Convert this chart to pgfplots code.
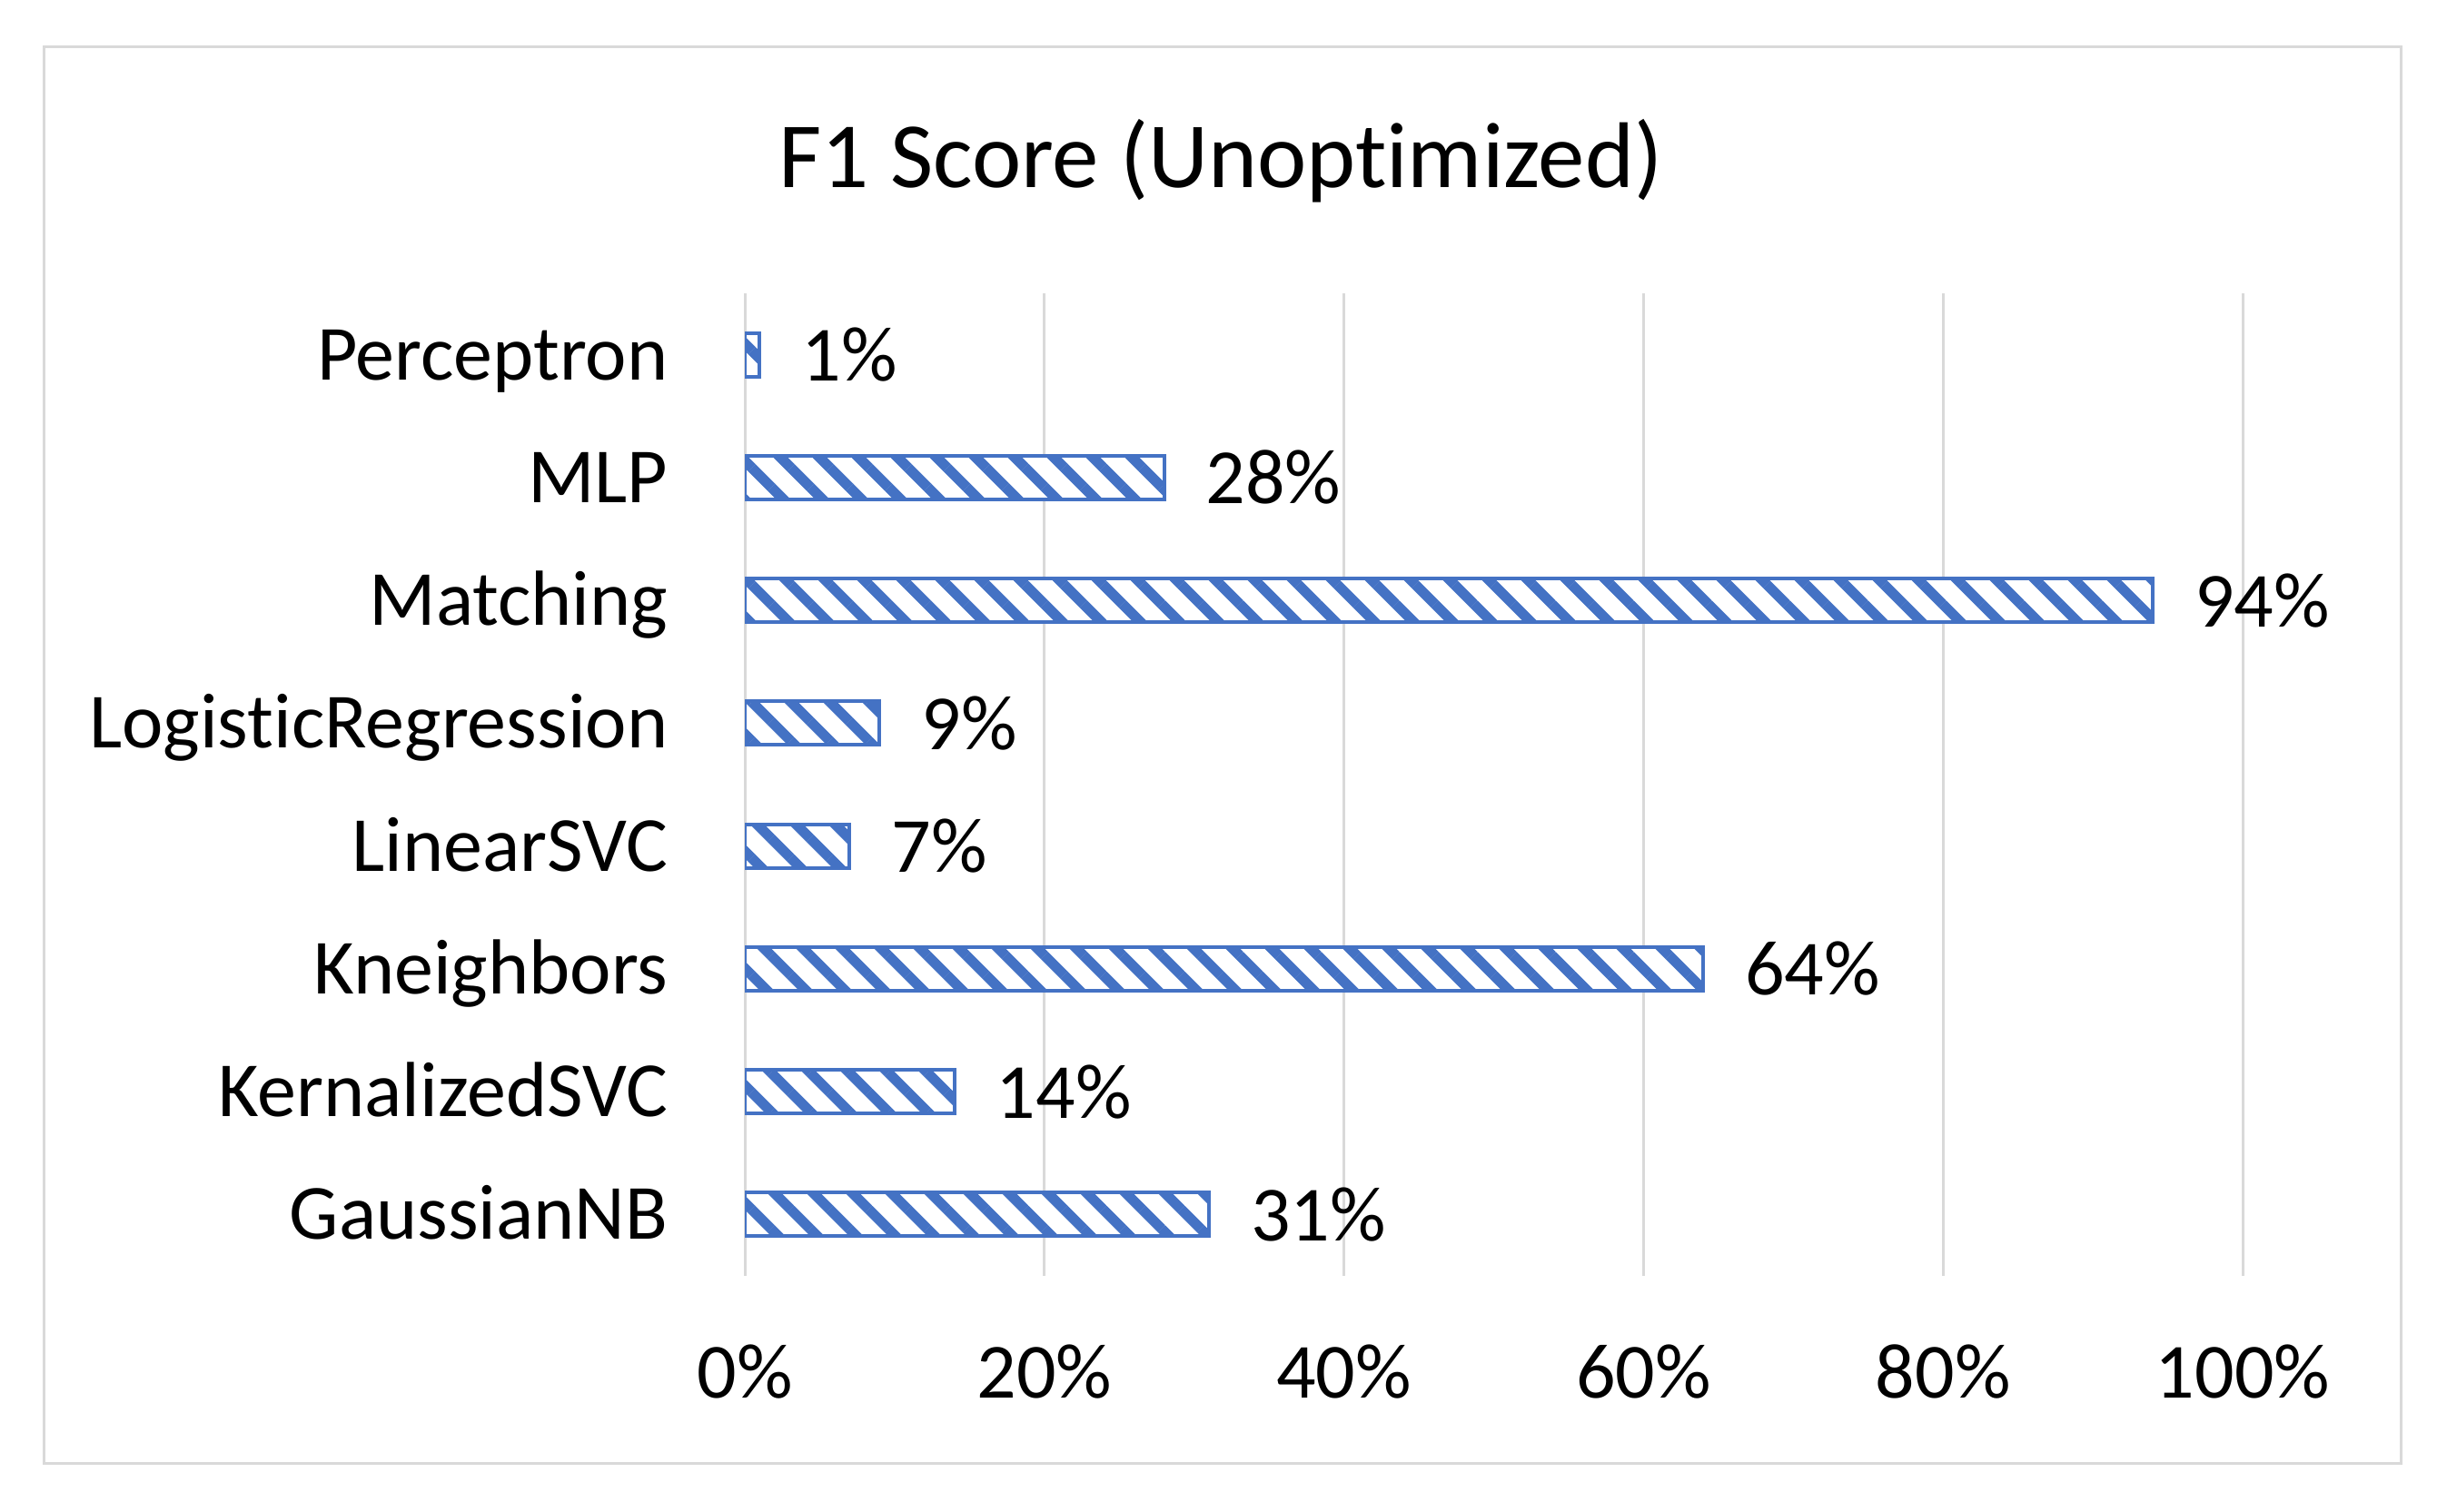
\documentclass[border=0pt]{standalone}
\usepackage{fontspec}
\setmainfont{Carlito}[Ligatures={NoCommon,NoContextual}, RawFeature={-liga;-clig;-calt;-dlig}]
\usepackage{pgfplots}
\pgfplotsset{compat=1.18}
\usetikzlibrary{patterns.meta}
\definecolor{barblue}{HTML}{4472C4}
\definecolor{gridgray}{HTML}{D9D9D9}
\begin{document}
\begin{tikzpicture}
\path[use as bounding box] (0,0) rectangle (673.5pt,416.25pt);
\draw[gridgray, line width=0.75pt] (12pt,13.25pt) rectangle (660.75pt,403.25pt);
\node[font=\fontsize{25.7}{30}\selectfont, inner sep=0pt] at (336pt,372pt) {F1 Score (Unoptimized)};
\begin{axis}[
  at={(205pt,65pt)}, anchor=south west,
  scale only axis, width=412.25pt, height=270.5pt,
  xbar, bar width=12pt, bar shift=0pt,
  xmin=0, xmax=100, ymin=-0.5, ymax=7.5,
  xtick={0,20,40,60,80,100}, xticklabels={0\%,20\%,40\%,60\%,80\%,100\%},
  ytick={0,...,7}, yticklabels={GaussianNB,KernalizedSVC,Kneighbors,LinearSVC,LogisticRegression,Matching,MLP,Perceptron},
  axis line style={draw=none}, major tick length=0pt,
  xmajorgrids, grid style={gridgray, line width=0.75pt},
  ticklabel style={font=\fontsize{21.5}{25}\selectfont, inner sep=0pt},
  xticklabel style={anchor=base, yshift=-33.7pt},
  yticklabel style={anchor=base east, xshift=-21pt, yshift=-6.9pt},
  point meta=x,
  /pgf/number format/assume math mode=true,
  nodes near coords={\pgfmathprintnumber{\pgfplotspointmeta}\%},
  nodes near coords style={font=\fontsize{21.5}{25}\selectfont, inner sep=0pt, anchor=west, xshift=11pt, text=black},
]
\addplot[draw=barblue, line width=1pt, preaction={fill=white},
  pattern={Lines[angle=-45,distance=7.6pt,line width=2.8pt]}, pattern color=barblue]
  coordinates {(31,0) (14,1) (64,2) (7,3) (9,4) (94,5) (28,6) (1,7)};
\end{axis}
\end{tikzpicture}
\end{document}
